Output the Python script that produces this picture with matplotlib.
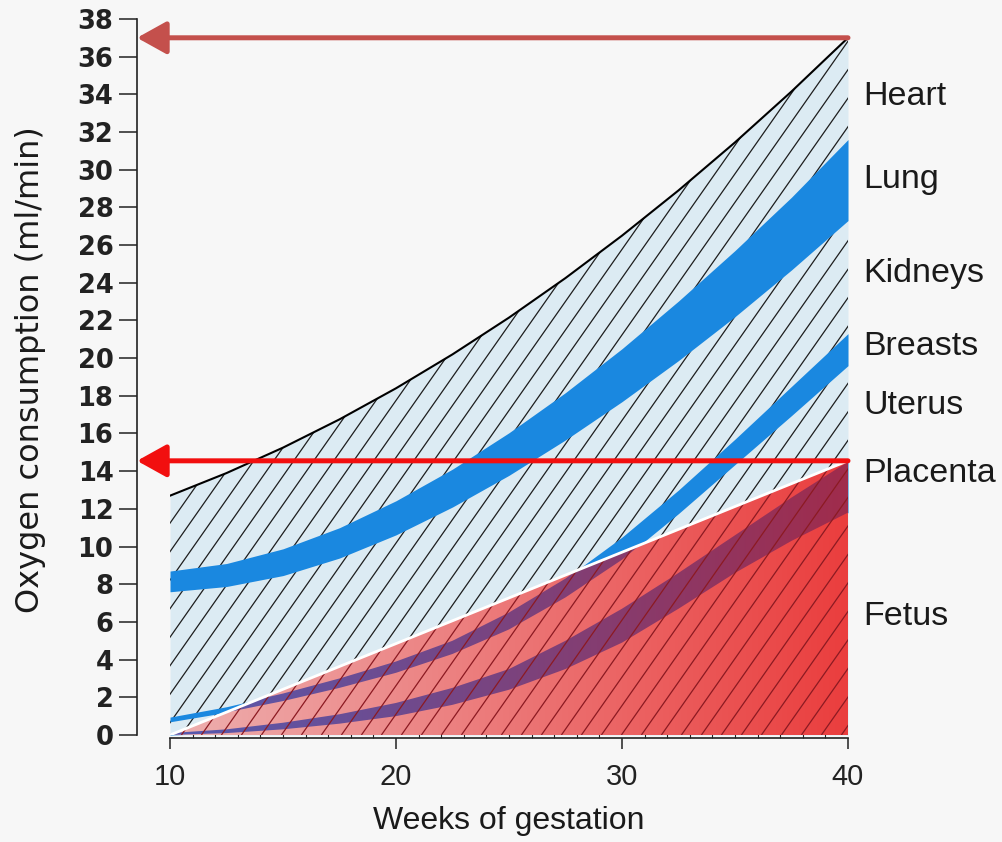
import numpy as np
import matplotlib.pyplot as plt
from matplotlib.collections import LineCollection
from matplotlib.patches import Polygon

# oxygen consumption (ml/min), every 2.5 weeks
weeks = [10, 12.5, 15, 17.5, 20, 22.5, 25, 27.5, 30, 32.5, 35, 37.5, 40]
total = [12.7, 13.9, 15.25, 16.75, 18.4, 20.2, 22.15, 24.25, 26.5, 28.9, 31.45, 34.15, 37.0]
lung_hi = [8.7, 9.1, 9.88, 11.0, 12.43, 14.11, 16.04, 18.17, 20.5, 23.03, 25.71, 28.54, 31.6]
lung_lo = [7.6, 7.88, 8.46, 9.39, 10.62, 12.1, 13.78, 15.66, 17.69, 19.87, 22.2, 24.68, 27.3]
breast_hi = [0.95, 1.5, 2.2, 3.0, 3.9, 5.0, 6.5, 8.3, 10.5, 13.0, 15.7, 18.5, 21.3]
breast_lo = [0.7, 1.2, 1.8, 2.5, 3.3, 4.3, 5.6, 7.3, 9.3, 11.75, 14.35, 16.95, 19.6]
plac_hi = [0.1, 0.3, 0.65, 1.1, 1.7, 2.5, 3.5, 5.0, 6.7, 8.6, 10.6, 12.6, 14.5]
plac_lo = [0.0, 0.1, 0.3, 0.6, 1.0, 1.6, 2.4, 3.5, 4.9, 6.7, 8.6, 10.3, 11.8]
# fetus + placenta wedge (straight upper edge)
fetal_x = [10, 40]
fetal_top = [0.0, 14.55]

organs = ["Heart", "Lung", "Kidneys", "Breasts", "Uterus", "Placenta", "Fetus"]
organ_y = [33.9, 29.5, 24.5, 20.6, 17.5, 13.9, 6.3]

BG = "#f7f7f7"
fig = plt.figure(figsize=(10.02, 8.42), dpi=100, facecolor=BG)
ax = fig.add_axes([0.1697, 0.1271, 0.6766, 0.8504])
ax.set_facecolor("none")

x = np.asarray(weeks, dtype=float)
area = ax.fill_between(x, 0, total, color="#dcebf3", lw=0, zorder=1)
ax.plot(x, total, color="black", lw=1.5, zorder=5)

# diagonal hatching
slope, step = 1.71, 0.885
starts = np.arange(10 - 40 / slope, 40 + step, step)
segs = [[(c, 0), (c + 40 / slope, 40)] for c in starts]
hatch = LineCollection(segs, colors="#1e1e1e", linewidths=0.9, zorder=2)
hatch.set_clip_path(area.get_paths()[0], ax.transData)
ax.add_collection(hatch)

blue = "#1a88e0"
for lo, hi in [(lung_lo, lung_hi), (breast_lo, breast_hi), (plac_lo, plac_hi)]:
    ax.fill_between(x, lo, hi, color=blue, lw=0, zorder=3)

# red wedge with left-to-right gradient
wedge = Polygon([(fetal_x[0], fetal_top[0]), (fetal_x[-1], 0), (fetal_x[-1], fetal_top[-1])],
                closed=True, transform=ax.transData)
t = np.linspace(0, 1, 256)[:, None]


def ramp(c0, c1):
    c0, c1 = np.array(c0) / 255, np.array(c1) / 255
    return (c0 * (1 - t) + c1 * t)[None, :, :]


ext = [fetal_x[0], fetal_x[-1], 0, fetal_top[-1]]
red = ax.imshow(ramp((238, 176, 176), (234, 62, 62)), extent=ext, origin="lower",
                aspect="auto", interpolation="bilinear", zorder=4)
red.set_clip_path(wedge)

# bands seen through the wedge turn purple
xs = np.linspace(10, 40, 601)
edge = np.interp(xs, fetal_x, fetal_top)
for lo, hi in [(breast_lo, breast_hi), (plac_lo, plac_hi)]:
    bot = np.minimum(np.interp(xs, x, lo), edge)
    top = np.minimum(np.interp(xs, x, hi), edge)
    verts = np.vstack([np.column_stack([xs, bot]), np.column_stack([xs[::-1], top[::-1]])])
    band = Polygon(verts, closed=True, transform=ax.transData)
    im = ax.imshow(ramp((86, 90, 176), (160, 44, 76)), extent=ext, origin="lower",
                   aspect="auto", interpolation="bilinear", zorder=4.5)
    im.set_clip_path(band)

red_hatch = LineCollection(segs, colors="#8c1a22", linewidths=0.9, zorder=6)
red_hatch.set_clip_path(wedge)
ax.add_collection(red_hatch)
ax.plot(fetal_x, fetal_top, color="white", lw=2, zorder=6.5)

# y axis sits 33 px left of week 10
offset_px = 33
offset_pt = offset_px * 72 / fig.dpi
tip = -offset_px / (ax.get_position().width * fig.bbox.width)
for yv, col in [(total[-1], "#c4504c"), (fetal_top[-1], "#f20f0f")]:
    ax.annotate("", xy=(tip, yv), xycoords=ax.get_yaxis_transform(),
                xytext=(weeks[-1], yv), textcoords="data",
                arrowprops=dict(arrowstyle="-|>,head_length=0.9,head_width=0.5",
                                lw=3.6, color=col, shrinkA=0, shrinkB=0,
                                mutation_scale=20),
                zorder=10, annotation_clip=False)

for name, yv in zip(organs, organ_y):
    ax.text(40.66, yv, name, fontsize=24.5, va="center", ha="left",
            family="Liberation Sans", color="#1a1a1a", clip_on=False)

ax.set_xlim(10, 40)
ax.set_ylim(0, 38)
for s in ["top", "right"]:
    ax.spines[s].set_visible(False)
ax.spines["left"].set_position(("outward", offset_pt))
ax.spines["bottom"].set_position(("outward", 2))
for s in ["left", "bottom"]:
    ax.spines[s].set_linewidth(1.2)
    ax.spines[s].set_color("#222222")

ax.set_yticks(range(0, 39, 2))
ax.set_xticks([10, 20, 30, 40])
ax.set_xticks(range(10, 41), minor=True)
ax.tick_params(axis="y", direction="out", length=13, width=1.1, pad=4, colors="#222222")
ax.tick_params(axis="x", which="major", direction="out", length=8, width=1.1, pad=10,
               colors="#222222")
ax.tick_params(axis="x", which="minor", direction="in", length=4, width=0.8, colors="#222222")
for lab in ax.get_yticklabels():
    lab.set_fontsize(18.5)
    lab.set_fontweight("bold")
    lab.set_family("DejaVu Sans")
for lab in ax.get_xticklabels():
    lab.set_fontsize(21)
    lab.set_family("Liberation Sans")

ax.set_xlabel("Weeks of gestation", fontsize=23, family="Liberation Sans",
              color="#1a1a1a", labelpad=11)
fig.text(0.03, (842 - 370) / 842, "Oxygen consumption (ml/min)", rotation=90,
         fontsize=23, family="DejaVu Sans", va="center", ha="center",
         color="#1a1a1a")

fig.savefig("out.png", dpi=100, facecolor=BG)
